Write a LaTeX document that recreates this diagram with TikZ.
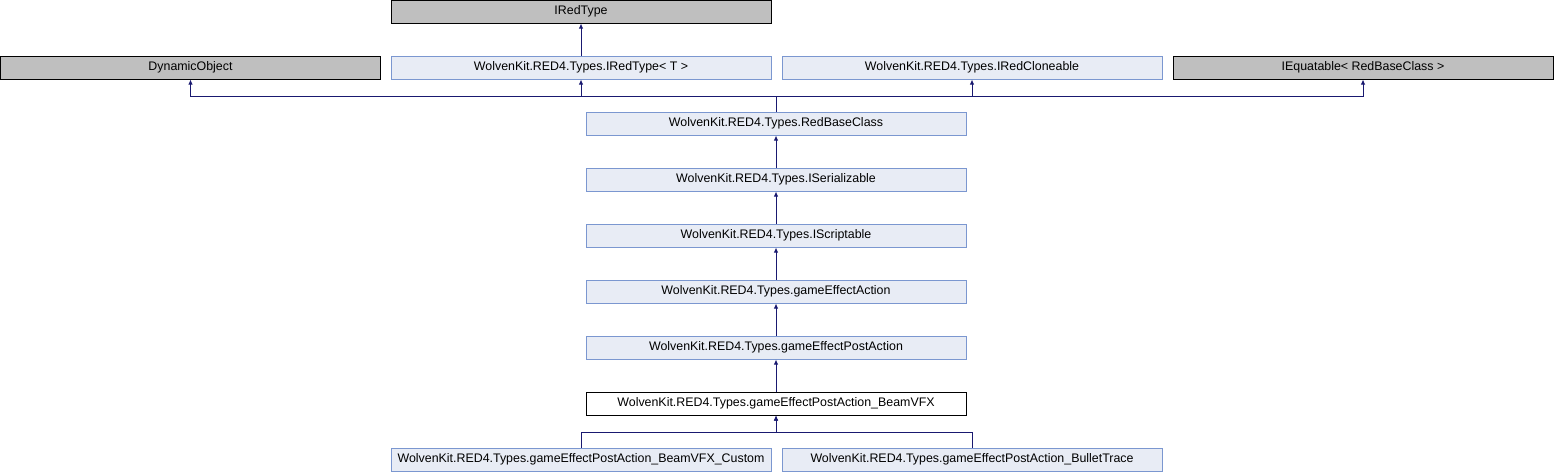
\documentclass[tikz,border=0pt]{standalone}
\usepackage{fontspec}
\setmainfont{Liberation Sans}
\usetikzlibrary{arrows.meta}
\definecolor{Edge}{HTML}{191970}
\definecolor{Ext}{HTML}{BFBFBF}
\definecolor{Cls}{HTML}{E8ECF5}
\definecolor{ClsLine}{HTML}{7B97D0}

\begin{document}
\begin{tikzpicture}[x=1pt,y=-1pt,
  classbox/.style={draw=ClsLine,fill=Cls,line width=1pt,
   minimum width=380pt,minimum height=23pt,inner sep=0pt,
   font=\fontsize{12.4}{14}\selectfont},
  extbox/.style={classbox,draw=black,fill=Ext},
  selfbox/.style={classbox,draw=black,fill=white},
  inherit/.style={-{Latex[length=5pt,width=4.5pt]},line width=1pt,draw=Edge}]
  \useasboundingbox (0,0) rectangle (1554,472);
  % top rows
  \node[extbox] (iredtype) at (581,11.5) {IRedType};
  \node[extbox] (dynobj) at (190.5,67.5) {DynamicObject};
  \node[classbox] (iredtypeT) at (581,67.5) {WolvenKit.RED4.Types.IRedType< T >};
  \node[classbox] (clone) at (972,67.5) {WolvenKit.RED4.Types.IRedCloneable};
  \node[extbox] (equatable) at (1363,67.5) {IEquatable< RedBaseClass >};
  % main chain
  \node[classbox] (redbase) at (776,123.5) {WolvenKit.RED4.Types.RedBaseClass};
  \node[classbox] (serial) at (776,179.5) {WolvenKit.RED4.Types.ISerializable};
  \node[classbox] (script) at (776,235.5) {WolvenKit.RED4.Types.IScriptable};
  \node[classbox] (action) at (776,291.5) {WolvenKit.RED4.Types.gameEffectAction};
  \node[classbox] (postaction) at (776,347.5) {WolvenKit.RED4.Types.gameEffectPostAction};
  \node[selfbox] (beamvfx) at (776,403.5) {WolvenKit.RED4.Types.gameEffectPostAction\_BeamVFX};
  % children
  \node[classbox] (custom) at (581,459.5) {WolvenKit.RED4.Types.gameEffectPostAction\_BeamVFX\_Custom};
  \node[classbox] (bullet) at (972,459.5) {WolvenKit.RED4.Types.gameEffectPostAction\_BulletTrace};

  \coordinate (topbus) at (776,96);
  \coordinate (lowbus) at (776,432);

  \draw[inherit] (iredtypeT) -- (iredtype);
  \draw[inherit] (redbase.north) -- (topbus) -| (dynobj.south);
  \draw[inherit] (redbase.north) -- (topbus) -| (iredtypeT.south);
  \draw[inherit] (redbase.north) -- (topbus) -| (clone.south);
  \draw[inherit] (redbase.north) -- (topbus) -| (equatable.south);
  \draw[inherit] (serial) -- (redbase);
  \draw[inherit] (script) -- (serial);
  \draw[inherit] (action) -- (script);
  \draw[inherit] (postaction) -- (action);
  \draw[inherit] (beamvfx) -- (postaction);
  \draw[inherit] (custom.north) |- (lowbus) -- (beamvfx.south);
  \draw[inherit] (bullet.north) |- (lowbus) -- (beamvfx.south);
\end{tikzpicture}
\end{document}
